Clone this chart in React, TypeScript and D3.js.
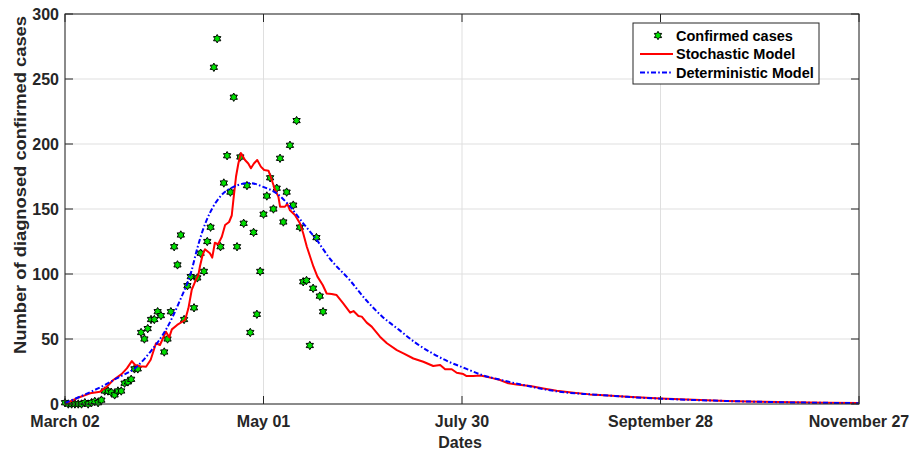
import React from "react";
import * as d3 from "d3";

// ---------- data ----------
const tickDays = [0, 60, 120, 180, 240];
const tickLabels = ["March 02", "May 01", "July 30", "September 28", "November 27"];
const yTicks = [0, 50, 100, 150, 200, 250, 300];

// confirmed cases: one per day starting at day 0
const confirmedCases = [
  1, 0, 0, 0, 0, 0, 1, 0, 1, 2, 1, 3, 10, 10, 9, 7, 10, 10, 16, 17,
  19, 27, 27, 55, 50, 58, 65, 65, 71, 68, 40, 50, 71, 121, 107, 130, 65, 91, 98, 74,
  97, 116, 102, 125, 136, 259, 281, 121, 170, 191, 163, 236, 121, 190, 139, 168, 55, 132, 69, 102,
  146, 160, 174, 150, 166, 189, 140, 163, 199, 153, 218, 136, 94, 95, 45, 89, 128, 83, 71,
];

const stochasticDays = [
  0, 3.5, 7.6, 10.6, 12.6, 14.6, 17.1, 18.7, 20.2, 21.2, 22.7, 24.5, 25.9, 27.5, 28.7, 30.5, 31.5, 32.3, 33.9, 36.3,
  37.3, 38.3, 39.3, 40.3, 40.8, 41.6, 42.3, 43.8, 44.5, 45.3, 46.3, 47.4, 48.4, 49.6, 50.4, 50.9, 51.7, 52.4, 53.2, 54.4,
  55.4, 56.2, 57.1, 58.1, 59.2, 60.2, 61.5, 62.5, 63.5, 64.5, 65.0, 66.5, 67.2, 68.0, 69.5, 71.0, 72.0, 73.1, 74.1, 75.1,
  76.3, 77.9, 79.1, 80.6, 82.1, 84.1, 86.2, 87.2, 88.7, 89.7, 91.2, 92.7, 95.2, 97.3, 100.3, 102.3, 105.3, 108.3, 111.3, 113.4,
  114.9, 116.9, 118.4, 120.4, 121.4, 123.4, 125.5, 127.5, 129.5, 131.5, 134.0, 136.5, 140.6, 144.6, 148.6, 153.7, 158.7, 161.7, 170, 180,
  190, 200, 210, 220, 230, 240,
];
const stochasticValues = [
  0, 4.4, 8.2, 9.5, 13.3, 18.5, 23, 27.4, 33, 30, 29, 28.7, 34, 46.7, 45.4, 55.6, 51.3, 57.4, 60.8, 64.6,
  73.6, 87.7, 94, 99, 106, 114.6, 119, 116, 112.6, 124, 123, 128.7, 137.7, 140, 145, 157, 175, 185, 193, 187.7,
  185, 181.3, 185, 187.7, 182.6, 180, 179.5, 172.3, 164.6, 159.5, 151.8, 151.8, 154, 149, 145.4, 139, 131.3, 121, 113.3, 105.6,
  98, 91.5, 85, 84.6, 83.8, 77.4, 70.3, 71.5, 67.7, 67.2, 62.6, 59.5, 51.8, 46.7, 41.5, 39, 35, 32.5, 29.2, 30,
  26.7, 26.7, 24, 23, 21.5, 21.5, 22, 21, 19.7, 18.5, 15.9, 15, 13.8, 12, 10.2, 8.7, 7.4, 7, 5.5, 4.2,
  3.2, 2.4, 1.8, 1.3, 1.0, 0.7,
];

const deterministicDays = [
  0, 4.5, 10.6, 15.6, 21.7, 26.2, 30.7, 34.8, 38.3, 39.8, 41.3, 43.8, 46.9, 50.9, 55.9, 59.9, 64, 68, 72, 76,
  80, 86, 91, 96, 101, 106, 111, 116, 121, 126, 131, 136, 141, 146, 151, 157, 162, 170, 180, 190,
  200, 210, 220, 230, 240,
];
const deterministicValues = [
  0.8, 5.6, 12.8, 19.7, 28.7, 41.5, 58, 80, 103, 118, 131, 147, 159.5, 167, 170, 167, 162, 152, 139, 126.5,
  112, 95.5, 80, 67, 57, 47, 39, 32.5, 27.4, 22.3, 19, 16, 13.3, 10.8, 9, 7.7, 6.9, 5.5, 4.1, 3.1,
  2.3, 1.7, 1.2, 0.9, 0.6,
];

const legendLabels = ["Confirmed cases", "Stochastic Model", "Deterministic Model"];

// ---------- layout ----------
const W = 916;
const H = 452;
const left = 65;
const right = 859;
const top = 14;
const bottom = 404;
const FONT = "'Liberation Sans', Arial, Helvetica, sans-serif";
const TXT = "#262626";

function hexagram(R: number): string {
  const r = R / Math.sqrt(3);
  const pts: string[] = [];
  for (let k = 0; k < 12; k++) {
    const a = (-90 + k * 30) * (Math.PI / 180);
    const rad = k % 2 === 0 ? R : r;
    pts.push(`${(rad * Math.cos(a)).toFixed(2)},${(rad * Math.sin(a)).toFixed(2)}`);
  }
  return "M" + pts.join("L") + "Z";
}

export default function App() {
  const x = d3.scaleLinear().domain([0, 240]).range([left, right]);
  const y = d3.scaleLinear().domain([0, 300]).range([bottom, top]);

  const stoch = d3.zip(stochasticDays, stochasticValues) as [number, number][];
  const det = d3.zip(deterministicDays, deterministicValues) as [number, number][];

  const redLine = d3
    .line<[number, number]>()
    .x((d) => x(d[0]))
    .y((d) => y(d[1]))
    .curve(d3.curveLinear);
  const blueLine = d3
    .line<[number, number]>()
    .x((d) => x(d[0]))
    .y((d) => y(d[1]))
    .curve(d3.curveMonotoneX);

  const star = hexagram(4.2);
  const tickLen = 8;
  const dash = "5 2.2 1.6 2.2";

  const legX = 633;
  const legY = 23;
  const legW = 186;
  const legH = 61;
  const rowY = [35.5, 54, 72.5];

  return (
    <svg
      width={W}
      height={H}
      style={{ position: "absolute", left: 0, top: 0, background: "#fff" }}
      fontFamily={FONT}
    >
      <rect x={0} y={0} width={W} height={H} fill="#fff" />
      {/* grid */}
      {yTicks.map((t) => (
        <line key={"gy" + t} x1={left} x2={right} y1={y(t)} y2={y(t)} stroke="#dfdfdf" strokeWidth={1} />
      ))}
      {tickDays.map((t) => (
        <line key={"gx" + t} x1={x(t)} x2={x(t)} y1={top} y2={bottom} stroke="#dfdfdf" strokeWidth={1} />
      ))}

      {/* confirmed cases */}
      <g>
        {confirmedCases.map((v, i) => (
          <path
            key={"c" + i}
            d={star}
            transform={`translate(${x(i)},${y(v)})`}
            fill="#00e000"
            stroke="#000"
            strokeWidth={1}
          />
        ))}
      </g>

      {/* stochastic */}
      <path d={redLine(stoch) || ""} fill="none" stroke="#ff0000" strokeWidth={2} strokeLinejoin="round" />
      {/* deterministic */}
      <path d={blueLine(det) || ""} fill="none" stroke="#0000ff" strokeWidth={2} strokeDasharray={dash} />

      {/* axes box */}
      <rect x={left} y={top} width={right - left} height={bottom - top} fill="none" stroke={TXT} strokeWidth={1} />
      {/* ticks */}
      {yTicks.map((t) => (
        <g key={"ty" + t}>
          <line x1={left} x2={left + tickLen} y1={y(t)} y2={y(t)} stroke={TXT} />
          <line x1={right} x2={right - tickLen} y1={y(t)} y2={y(t)} stroke={TXT} />
          <text
            x={left - 6}
            y={y(t)}
            dy="0.36em"
            textAnchor="end"
            fontSize={16}
            fontWeight="bold"
            fill={TXT}
          >
            {t}
          </text>
        </g>
      ))}
      {tickDays.map((t, i) => (
        <g key={"tx" + t}>
          <line x1={x(t)} x2={x(t)} y1={bottom} y2={bottom - tickLen} stroke={TXT} />
          <line x1={x(t)} x2={x(t)} y1={top} y2={top + tickLen} stroke={TXT} />
          <text x={x(t)} y={427} textAnchor="middle" fontSize={16} fontWeight="bold" fill={TXT}>
            {tickLabels[i]}
          </text>
        </g>
      ))}

      {/* axis labels */}
      <text x={460} y={448} textAnchor="middle" fontSize={16} fontWeight="bold" fill={TXT}>
        Dates
      </text>
      <text
        transform={`translate(26,185) rotate(-90)`}
        textAnchor="middle"
        fontSize={16}
        fontWeight="bold"
        fill={TXT}
        textLength={338}
        lengthAdjust="spacingAndGlyphs"
      >
        Number of diagnosed confirmed cases
      </text>

      {/* legend */}
      <rect x={legX} y={legY} width={legW} height={legH} fill="#fff" stroke={TXT} strokeWidth={1} />
      <path d={star} transform={`translate(${658},${rowY[0]})`} fill="#00e000" stroke="#000" strokeWidth={1} />
      <line x1={640} x2={673} y1={rowY[1]} y2={rowY[1]} stroke="#ff0000" strokeWidth={2} />
      <line x1={640} x2={673} y1={rowY[2]} y2={rowY[2]} stroke="#0000ff" strokeWidth={2} strokeDasharray={dash} />
      {legendLabels.map((l, i) => (
        <text
          key={l}
          x={676}
          y={rowY[i]}
          dy="0.36em"
          fontSize={14.5}
          fontWeight="bold"
          fill="#000"
        >
          {l}
        </text>
      ))}
    </svg>
  );
}
